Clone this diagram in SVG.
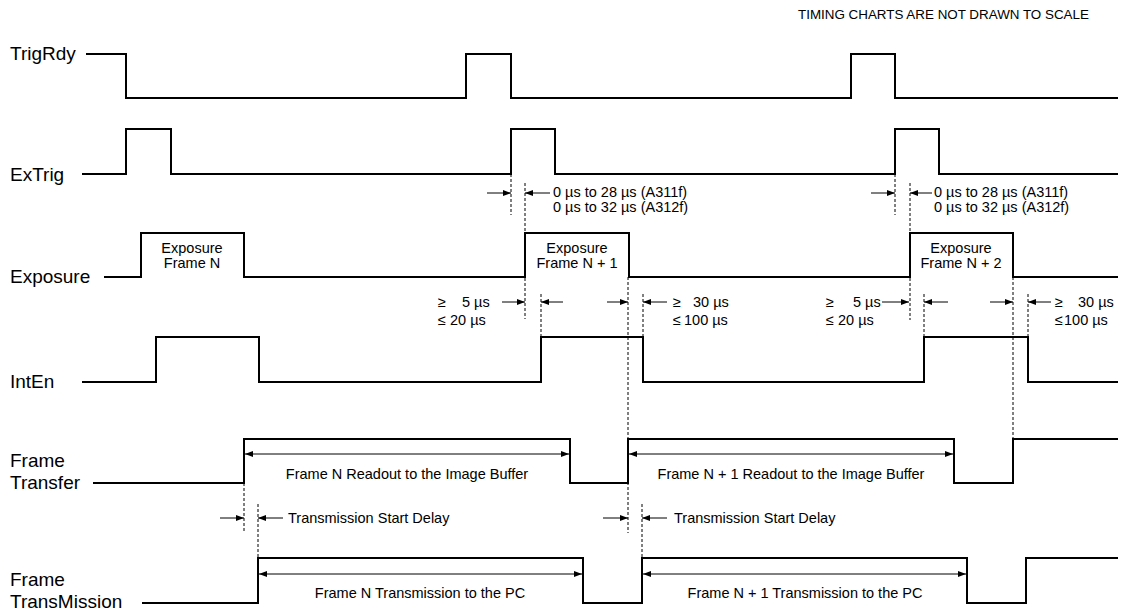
<svg xmlns="http://www.w3.org/2000/svg" width="1122" height="610" viewBox="0 0 1122 610">
<style>
.sig{fill:none;stroke:#000;stroke-width:2}
.dash{fill:none;stroke:#000;stroke-width:1;stroke-dasharray:3 2}
.arr{fill:none;stroke:#000;stroke-width:1;marker-end:url(#ah)}
.dbl{fill:none;stroke:#000;stroke-width:1;marker-end:url(#ah);marker-start:url(#ah)}
.lbl{font-family:"Liberation Sans",Arial,sans-serif;font-size:19px;fill:#000}
.t{font-family:"Liberation Sans",Arial,sans-serif;font-size:14.5px;fill:#000}
.tc{font-family:"Liberation Sans",Arial,sans-serif;font-size:14.5px;fill:#000;text-anchor:middle}
.note{font-family:"Liberation Sans",Arial,sans-serif;font-size:13.4px;fill:#000}
</style>
<defs>
<marker id="ah" markerUnits="userSpaceOnUse" markerWidth="9" markerHeight="7" refX="8" refY="3" orient="auto-start-reverse">
<path d="M0,0 L8,3 L0,6 z" fill="#000"/>
</marker>
</defs>
<rect width="1122" height="610" fill="#fff"/>
<text class="note" x="798" y="19">TIMING CHARTS ARE NOT DRAWN TO SCALE</text>

<g id="trigrdy">
<text class="lbl" x="10" y="60">TrigRdy</text>
<path class="sig" d="M86,54 H126 V98 H466 V54 H511 V98 H851 V54 H895 V98 H1118"/>
</g>
<g id="extrig">
<text class="lbl" x="10" y="181">ExTrig</text>
<path class="sig" d="M82,174 H126 V129 H171 V174 H511 V129 H555 V174 H895 V129 H939 V174 H1118"/>
</g>
<g id="exposure">
<text class="lbl" x="10" y="283">Exposure</text>
<path class="sig" d="M104,277 H141 V233 H244 V277 H525 V233 H629 V277 H910 V233 H1013 V277 H1118"/>
<text class="tc" x="192" y="253">Exposure</text>
<text class="tc" x="192" y="268">Frame N</text>
<text class="tc" x="577" y="253">Exposure</text>
<text class="tc" x="577" y="268">Frame N + 1</text>
<text class="tc" x="961" y="253">Exposure</text>
<text class="tc" x="961" y="268">Frame N + 2</text>
</g>
<g id="inten">
<text class="lbl" x="10" y="388">IntEn</text>
<path class="sig" d="M82,382 H156 V337 H259 V382 H541 V337 H643 V382 H924 V337 H1028 V382 H1118"/>
</g>
<g id="frametransfer">
<text class="lbl" x="10" y="467">Frame</text>
<text class="lbl" x="10" y="489">Transfer</text>
<path class="sig" d="M93,483 H244 V439 H570 V483 H628 V439 H954 V483 H1013 V439 H1118"/>
<text class="tc" x="407" y="479">Frame N Readout to the Image Buffer</text>
<text class="tc" x="791" y="479">Frame N + 1 Readout to the Image Buffer</text>
</g>
<g id="frametransmission">
<text class="lbl" x="10" y="586">Frame</text>
<text class="lbl" x="10" y="608">TransMission</text>
<path class="sig" d="M142,603 H258 V558 H583 V603 H642 V558 H967 V603 H1026 V558 H1118"/>
<text class="tc" x="420" y="598">Frame N Transmission to the PC</text>
<text class="tc" x="805" y="598">Frame N + 1 Transmission to the PC</text>
</g>

<g id="annotations">
<text class="t" x="553" y="197">0 µs to 28 µs (A311f)</text>
<text class="t" x="553" y="212">0 µs to 32 µs (A312f)</text>
<text class="t" x="934" y="197">0 µs to 28 µs (A311f)</text>
<text class="t" x="934" y="212">0 µs to 32 µs (A312f)</text>
<text class="t" y="307"><tspan x="438">≥</tspan><tspan x="462">5 µs</tspan></text>
<text class="t" y="325"><tspan x="438">≤</tspan><tspan x="450">20 µs</tspan></text>
<text class="t" y="307"><tspan x="673">≥</tspan><tspan x="693">30 µs</tspan></text>
<text class="t" y="325"><tspan x="673">≤</tspan><tspan x="684">100 µs</tspan></text>
<text class="t" y="307"><tspan x="826">≥</tspan><tspan x="853">5 µs</tspan></text>
<text class="t" y="325"><tspan x="826">≤</tspan><tspan x="838">20 µs</tspan></text>
<text class="t" y="307"><tspan x="1055">≥</tspan><tspan x="1078">30 µs</tspan></text>
<text class="t" y="325"><tspan x="1055">≤</tspan><tspan x="1064">100 µs</tspan></text>
<text class="t" x="288" y="523">Transmission Start Delay</text>
<text class="t" x="674" y="523">Transmission Start Delay</text>
</g>

<g id="connectors">
<path class="dash" d="M511,174 V215 M525,183 V319 M895,174 V215 M910,183 V320 M541,294 V337 M643,294 V337 M628,277 V533 M1013,277 V439 M924,294 V337 M1028,294 V337 M244,483 V533 M258,504 V558 M642,504 V558"/>
<path class="arr" d="M487,193 H511"/>
<path class="arr" d="M550,193 H525"/>
<path class="arr" d="M871,193 H895"/>
<path class="arr" d="M932,193 H910"/>
<path class="arr" d="M502,302 H525"/>
<path class="arr" d="M563,302 H541"/>
<path class="arr" d="M607,302 H628"/>
<path class="arr" d="M667,302 H643"/>
<path class="arr" d="M882,302 H909"/>
<path class="arr" d="M948,302 H924"/>
<path class="arr" d="M990,302 H1013"/>
<path class="arr" d="M1051,302 H1028"/>
<path class="arr" d="M220,518 H244"/>
<path class="arr" d="M283,518 H258"/>
<path class="arr" d="M603,518 H628"/>
<path class="arr" d="M667,518 H642"/>
<path class="dbl" d="M245,454 H569"/>
<path class="dbl" d="M629,454 H953"/>
<path class="dbl" d="M259,574 H582"/>
<path class="dbl" d="M643,574 H966"/>
</g>
</svg>
